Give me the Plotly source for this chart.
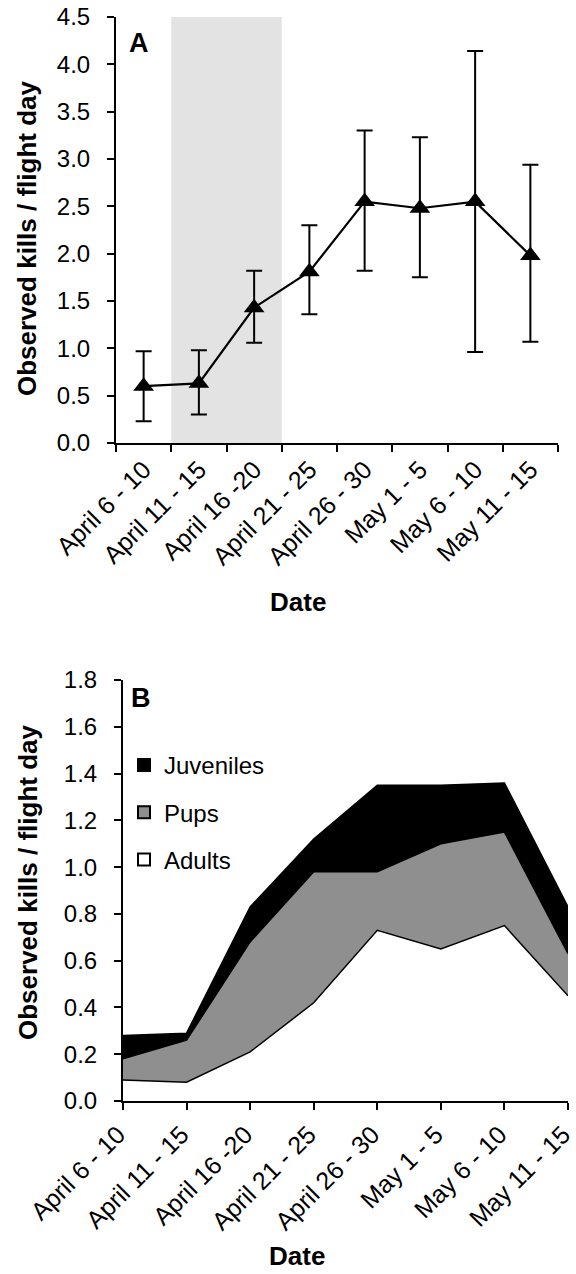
import plotly.graph_objects as go

# ---------------- data ----------------
dates = ["April 6 - 10", "April 11 - 15", "April 16 -20", "April 21 - 25",
         "April 26 - 30", "May 1 - 5", "May 6 - 10", "May 11 - 15"]

# Panel A: observed kills / flight day with asymmetric error bars
kills_mean = [0.60, 0.63, 1.43, 1.81, 2.55, 2.48, 2.55, 1.98]
kills_upper = [0.97, 0.98, 1.82, 2.30, 3.30, 3.23, 4.14, 2.94]
kills_lower = [0.23, 0.30, 1.06, 1.36, 1.82, 1.75, 0.96, 1.07]
shaded_periods = ["April 11 - 15", "April 16 -20"]

# Panel B: stacked components
adults = [0.09, 0.08, 0.21, 0.42, 0.73, 0.65, 0.75, 0.45]
pups = [0.09, 0.18, 0.47, 0.56, 0.25, 0.45, 0.40, 0.18]
juveniles = [0.10, 0.03, 0.15, 0.14, 0.37, 0.25, 0.21, 0.20]

# ---------------- styling ----------------
W, H = 576, 1274
FONT = "Arial, Liberation Sans, sans-serif"
YTICK_FONT = dict(family=FONT, size=24, color="black")
XTICK_FONT = dict(family=FONT, size=25, color="black")
TITLE_FONT = dict(family=FONT, size=26, color="black")


def px_x(p):
    return p / W


def px_y(p):
    return 1 - p / H


err_plus = [u - m for u, m in zip(kills_upper, kills_mean)]
err_minus = [m - l for m, l in zip(kills_mean, kills_lower)]

fig = go.Figure()

# Panel A
fig.add_trace(go.Scatter(
    x=dates, y=kills_mean, mode="lines+markers",
    line=dict(color="black", width=2.2),
    marker=dict(symbol="triangle-up", size=18, color="black"),
    error_y=dict(type="data", symmetric=False, array=err_plus,
                 arrayminus=err_minus, color="black", thickness=2, width=8),
    xaxis="x", yaxis="y", showlegend=False,
))

# shaded period
i0 = dates.index(shaded_periods[0])
i1 = dates.index(shaded_periods[-1])
fig.add_shape(type="rect", xref="x", yref="y domain",
              x0=i0 - 0.5, x1=i1 + 0.5, y0=0, y1=1,
              fillcolor="#e3e3e3", line=dict(width=0), layer="below")

# Panel B stacked areas
for name, vals, col in [("Adults", adults, "white"),
                        ("Pups", pups, "#8f8f8f"),
                        ("Juveniles", juveniles, "black")]:
    fig.add_trace(go.Scatter(
        x=dates, y=vals, mode="lines", stackgroup="b",
        line=dict(color="black", width=1.5), fillcolor=col,
        xaxis="x2", yaxis="y2", showlegend=False, name=name,
    ))

# legend entries (square swatches)
for name, col in [("Juveniles", "black"), ("Pups", "#8f8f8f"), ("Adults", "white")]:
    fig.add_trace(go.Bar(
        x=[None], y=[None], name=name, legendgroup=name,
        marker=dict(color=col, line=dict(color="black", width=1.5)),
        xaxis="x2", yaxis="y2", showlegend=True,
    ))

axis_common = dict(showgrid=False, zeroline=False, showline=True,
                   linecolor="black", linewidth=2, ticks="outside",
                   ticklen=7, tickwidth=2, tickcolor="black")

fig.update_layout(
    width=W, height=H,
    margin=dict(l=0, r=0, t=0, b=0),
    paper_bgcolor="white", plot_bgcolor="white",
    font=dict(family=FONT, color="black"),
    xaxis=dict(domain=[px_x(116), px_x(558)], anchor="y",
               type="category", range=[-0.5, 7.5], tickson="boundaries",
               tickangle=-45, automargin=False, tickfont=XTICK_FONT,
               **axis_common),
    yaxis=dict(domain=[px_y(443), px_y(17)], anchor="x",
               range=[0, 4.5], dtick=0.5, tickformat=".1f",
               automargin=False, tickfont=YTICK_FONT, ticklabelstandoff=12,
               **axis_common),
    xaxis2=dict(domain=[px_x(123), px_x(568)], anchor="y2",
                type="category", range=[0, 7],
                tickangle=-45, automargin=False, tickfont=XTICK_FONT,
                ticklabelshift=-5, **axis_common),
    yaxis2=dict(domain=[px_y(1101), px_y(680)], anchor="x2",
                range=[0, 1.8], dtick=0.2, tickformat=".1f",
                automargin=False, tickfont=YTICK_FONT, ticklabelstandoff=12,
                **axis_common),
    legend=dict(x=px_x(124), y=px_y(743), xanchor="left", yanchor="top",
                font=dict(family=FONT, size=24, color="black"),
                bgcolor="rgba(0,0,0,0)", tracegroupgap=13,
                traceorder="grouped", itemsizing="constant"),
    showlegend=True,
    annotations=[
        dict(text="<b>A</b>", x=px_x(139), y=px_y(43), xref="paper", yref="paper",
             xanchor="center", yanchor="middle",
             showarrow=False, font=dict(family=FONT, size=27, color="black")),
        dict(text="<b>B</b>", x=px_x(141), y=px_y(698), xref="paper", yref="paper",
             xanchor="center", yanchor="middle",
             showarrow=False, font=dict(family=FONT, size=27, color="black")),
        dict(text="<b>Observed kills / flight day</b>", textangle=-90,
             x=px_x(27), y=px_y(238), xref="paper", yref="paper",
             xanchor="center", yanchor="middle",
             showarrow=False, font=TITLE_FONT),
        dict(text="<b>Observed kills / flight day</b>", textangle=-90,
             x=px_x(28), y=px_y(882), xref="paper", yref="paper",
             xanchor="center", yanchor="middle",
             showarrow=False, font=TITLE_FONT),
        dict(text="<b>Date</b>", x=px_x(298), y=px_y(602), xref="paper", yref="paper",
             xanchor="center", yanchor="middle",
             showarrow=False, font=TITLE_FONT),
        dict(text="<b>Date</b>", x=px_x(297), y=px_y(1256), xref="paper", yref="paper",
             xanchor="center", yanchor="middle",
             showarrow=False, font=TITLE_FONT),
    ],
)

fig.write_html("out.html")
